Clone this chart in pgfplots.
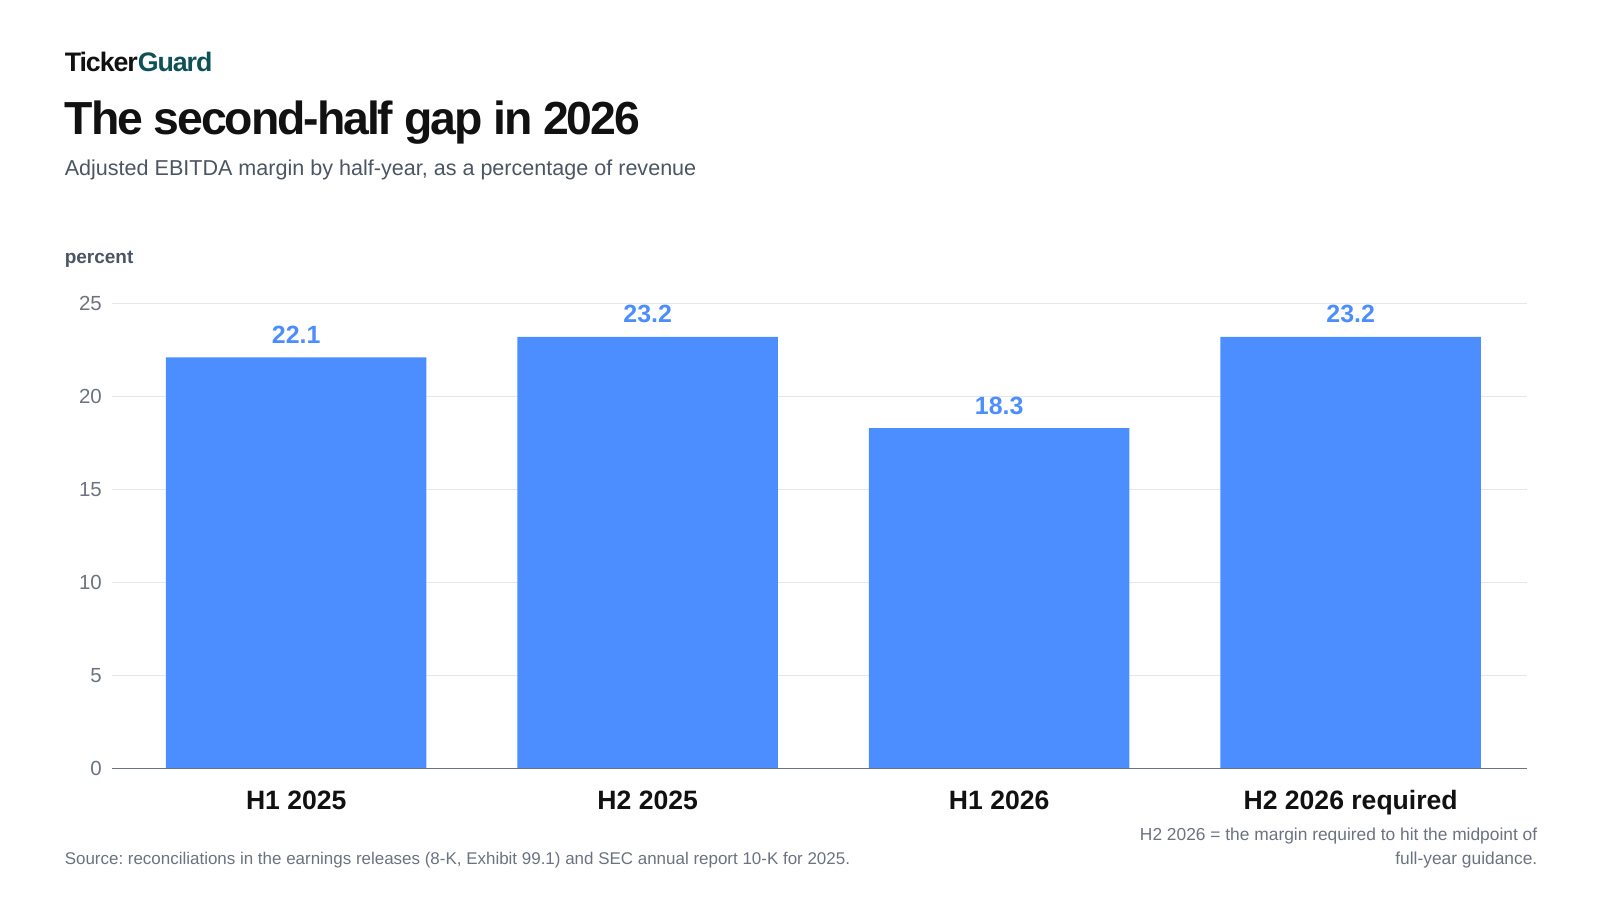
\documentclass[border=0pt]{standalone}
\usepackage{pgfplots}
\pgfplotsset{compat=1.18}
\usepackage{fontspec}
\setmainfont{Liberation Sans}
\newfontfamily\titlefont[LetterSpace=-4.5]{Liberation Sans}
\newfontfamily\brandfont[LetterSpace=-4]{Liberation Sans}
\definecolor{barblue}{HTML}{4C8DFF}
\definecolor{teal}{HTML}{0E5156}
\definecolor{titleblack}{HTML}{111111}
\definecolor{subgray}{HTML}{4B5563}
\definecolor{tickgray}{HTML}{6B7280}
\definecolor{gridgray}{HTML}{E5E7EB}
\definecolor{axisgray}{HTML}{6B7280}
\frenchspacing
\begin{document}
\begin{tikzpicture}
\path[use as bounding box] (0,9.5pt) rectangle (783pt,450pt);
\begin{axis}[
  overlay,
  at={(55pt,74pt)}, anchor=south west,
  scale only axis, width=692.5pt, height=227.5pt,
  xmin=-0.523, xmax=3.503, ymin=0, ymax=25,
  xtick={0,1,2,3},
  xticklabels={H1 2025, H2 2025, H1 2026, H2 2026 required},
  ytick={0,5,10,15,20,25},
  major tick length=0pt,
  axis line style={draw=none},
  ymajorgrids, grid style={gridgray, line width=0.6pt},
  yticklabel style={font=\fontsize{10}{12}\selectfont, text=tickgray, anchor=east, inner sep=0pt, xshift=-5pt},
  xticklabel style={font=\bfseries\fontsize{13}{15}\selectfont, text=titleblack, anchor=base, inner sep=0pt, yshift=-20pt},
  /pgf/number format/assume math mode=true,
  ybar, bar width=127.5pt,
  nodes near coords,
  nodes near coords style={font=\bfseries\fontsize{12.2}{14}\selectfont, text=barblue, anchor=south, inner sep=0pt, yshift=6.5pt, /pgf/number format/fixed, /pgf/number format/precision=1, /pgf/number format/fixed zerofill},
  clip=false,
]
\addplot[fill=barblue, draw=none] coordinates {(0,22.1) (1,23.2) (2,18.3) (3,23.2)};
\draw[axisgray, line width=0.8pt] (axis cs:-0.523,0) -- (axis cs:3.503,0);
\end{axis}
\node[anchor=base west, inner sep=0pt, font=\brandfont\bfseries\fontsize{13.1}{16}\selectfont] at (31.5pt,415pt) {\textcolor{titleblack}{Ticker}\textcolor{teal}{Guard}};
\node[anchor=base west, inner sep=0pt, font=\titlefont\bfseries\fontsize{22.7}{28}\selectfont, text=titleblack] at (31.5pt,384pt) {The second-half gap in 2026};
\node[anchor=base west, inner sep=0pt, font=\fontsize{10.55}{13}\selectfont, text=subgray] at (31.5pt,364pt) {Adjusted EBITDA margin by half-year, as a percentage of revenue};
\node[anchor=base west, inner sep=0pt, font=\bfseries\fontsize{9.3}{11}\selectfont, text=subgray] at (31.5pt,321pt) {percent};
\node[anchor=base west, inner sep=0pt, font=\fontsize{8.3}{10}\selectfont, text=tickgray] at (31.5pt,27pt) {Source: reconciliations in the earnings releases (8-K, Exhibit 99.1) and SEC annual report 10-K for 2025.};
\node[anchor=base east, inner sep=0pt, font=\fontsize{8.5}{10}\selectfont, text=tickgray] at (752.5pt,38.5pt) {H2 2026 = the margin required to hit the midpoint of};
\node[anchor=base east, inner sep=0pt, font=\fontsize{8.5}{10}\selectfont, text=tickgray] at (752.5pt,27pt) {full-year guidance.};
\end{tikzpicture}
\end{document}
